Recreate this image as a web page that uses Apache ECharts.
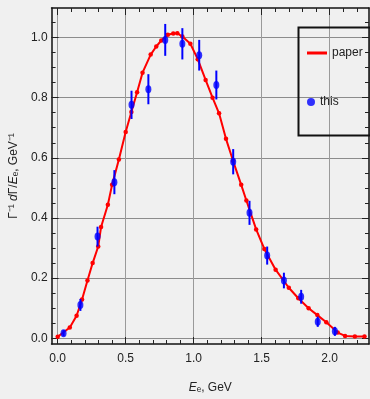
<!DOCTYPE html>
<html lang="en">
<head>
  <meta charset="UTF-8">
  <title>spectrum</title>
  <script src="https://cdn.jsdelivr.net/npm/echarts@6.0.0/dist/echarts.min.js"></script>
  <style>
    html, body { margin: 0; padding: 0; background: #f0f0f0; }
  </style>
</head>
<body>
  <div id="chart" style="width: 370px; height: 399px;"></div>

  <script>
    // curve "paper": [E, value]
    const paperX = [0.0, 0.089, 0.139, 0.179, 0.219, 0.257, 0.298, 0.319, 0.369, 0.4, 0.45, 0.5, 0.542,
      0.584, 0.624, 0.684, 0.725, 0.762, 0.81, 0.85, 0.88, 0.917, 0.976, 1.03, 1.088, 1.139, 1.187,
      1.238, 1.29, 1.35, 1.388, 1.46, 1.52, 1.603, 1.70, 1.77, 1.846, 1.91, 1.976, 2.06, 2.114, 2.186, 2.257]
    const paperY = [0.005, 0.036, 0.075, 0.129, 0.192, 0.25, 0.305, 0.37, 0.444, 0.51, 0.594, 0.686, 0.752,
      0.818, 0.883, 0.943, 0.97, 0.99, 1.009, 1.013, 1.014, 1.003, 0.979, 0.928, 0.859, 0.8, 0.748,
      0.663, 0.59, 0.51, 0.458, 0.362, 0.297, 0.228, 0.168, 0.133, 0.1, 0.077, 0.053, 0.019, 0.008, 0.006, 0.006]

    // points "this" with errors
    const thisX = [0.043, 0.167, 0.293, 0.417, 0.543, 0.667, 0.791, 0.917, 1.041, 1.167, 1.291, 1.411,
      1.541, 1.664, 1.791, 1.913, 2.039]
    const thisY = [0.017, 0.111, 0.338, 0.519, 0.776, 0.828, 0.992, 0.979, 0.941, 0.842, 0.587, 0.417,
      0.275, 0.192, 0.138, 0.055, 0.023]
    const thisErr = [0.01, 0.02, 0.033, 0.04, 0.047, 0.05, 0.053, 0.052, 0.051, 0.048, 0.042, 0.04,
      0.03, 0.026, 0.023, 0.017, 0.015]

    // ticks
    const xMajor = [0, 0.5, 1.0, 1.5, 2.0]
    const xMinor = [0, 0.1, 0.2, 0.3, 0.4, 0.5, 0.6, 0.7, 0.8, 0.9, 1.0, 1.1, 1.2, 1.3, 1.4, 1.5,
      1.6, 1.7, 1.8, 1.9, 2.0, 2.1, 2.2]
    const yMajor = [0, 0.2, 0.4, 0.6, 0.8, 1.0]
    const yMinor = [0, 0.05, 0.1, 0.15, 0.2, 0.25, 0.3, 0.35, 0.4, 0.45, 0.5, 0.55, 0.6, 0.65, 0.7,
      0.75, 0.8, 0.85, 0.9, 0.95, 1.0, 1.05]

    const xMin = -0.045, xMax = 2.29
    const yMin = -0.019, yMax = 1.098
    const font = '"Liberation Sans Narrow", "Liberation Sans", Arial, sans-serif'

    const paperData = paperX.map((x, i) => [x, paperY[i]])
    const thisData = thisX.map((x, i) => [x, thisY[i], thisErr[i]])

    // one axis of the frame: only ticks (and line), for major or minor positions
    function tickAxis(pos, values, len, min, max, main) {
      return {
        type: 'value', position: pos, min: min, max: max,
        axisLine: { show: !!main, onZero: false, lineStyle: { color: '#111', width: 1.5 } },
        axisTick: { show: true, inside: true, length: len, customValues: values,
          lineStyle: { color: '#222', width: 1 } },
        axisLabel: { show: false },
        splitLine: { show: false },
        minorTick: { show: false }
      }
    }

    const bottom = tickAxis('bottom', xMajor, 7, xMin, xMax, true)
    bottom.axisLabel = { show: true, customValues: xMajor, margin: 9, color: '#222',
      fontFamily: font, fontSize: 12, formatter: v => v.toFixed(1) }
    bottom.splitLine = { show: true, lineStyle: { color: '#9a9a9a', width: 1 } }
    bottom.name = '{i|E}{n|ₑ, GeV}'
    bottom.nameLocation = 'middle'
    bottom.nameGap = 38
    bottom.nameTextStyle = { color: '#222', fontFamily: font, fontSize: 12,
      rich: { i: { fontStyle: 'italic', fontFamily: font, fontSize: 12, color: '#222' },
              n: { fontFamily: font, fontSize: 12, color: '#222' } } }

    const left = tickAxis('left', yMajor, 7, yMin, yMax, true)
    left.axisLabel = { show: true, customValues: yMajor, margin: 4, color: '#222',
      fontFamily: font, fontSize: 12, formatter: v => v.toFixed(1) }
    left.splitLine = { show: true, lineStyle: { color: '#8c8c8c', width: 1.2 } }
    left.name = '{n|Γ⁻¹ }{i|d}{n|Γ/}{i|E}{n|ₑ, GeV⁻¹}'
    left.nameLocation = 'middle'
    left.nameGap = 29
    left.nameTextStyle = { color: '#222', fontFamily: font, fontSize: 12,
      rich: { i: { fontStyle: 'italic', fontFamily: font, fontSize: 12, color: '#222' },
              n: { fontFamily: font, fontSize: 12, color: '#222' } } }

    const chart = echarts.init(document.getElementById('chart'))
    chart.setOption({
      backgroundColor: '#f0f0f0',
      animation: false,
      grid: { left: 42, right: 1, top: 8, bottom: 52 },
      xAxis: [
        bottom,
        tickAxis('bottom', xMinor, 4, xMin, xMax, false),
        tickAxis('top', xMajor, 7, xMin, xMax, true),
        tickAxis('top', xMinor, 4, xMin, xMax, false)
      ],
      yAxis: [
        left,
        tickAxis('left', yMinor, 4, yMin, yMax, false),
        tickAxis('right', yMajor, 7, yMin, yMax, true),
        tickAxis('right', yMinor, 4, yMin, yMax, false)
      ],
      legend: [
        { data: [{ name: 'paper', icon: 'rect' }], left: 307, top: 47, padding: 0,
          itemWidth: 20, itemHeight: 3, itemGap: 5,
          textStyle: { fontFamily: font, fontSize: 12, color: '#222' } },
        { data: ['this'], left: 307, top: 96, padding: 0, itemWidth: 8, itemHeight: 8, itemGap: 6,
          textStyle: { fontFamily: font, fontSize: 12, color: '#222' } }
      ],
      graphic: [{
        type: 'rect', left: 296, top: 25, z: 100, silent: true,
        shape: { width: 72, height: 108 },
        style: { fill: 'none', stroke: '#111', lineWidth: 2 }
      }],
      series: [
        {
          name: 'paper', type: 'line', data: paperData,
          symbol: 'circle', symbolSize: 4.5, showSymbol: true,
          itemStyle: { color: '#ff0000' },
          lineStyle: { color: '#ff0000', width: 2 },
          z: 3
        },
        {
          name: 'this-err', type: 'custom', data: thisData,
          renderItem: function (params, api) {
            const x = api.value(0), y = api.value(1), e = api.value(2)
            const lo = api.coord([x, y - e]), hi = api.coord([x, y + e])
            return { type: 'line', shape: { x1: lo[0], y1: lo[1], x2: hi[0], y2: hi[1] },
              style: { stroke: '#0000ff', lineWidth: 2 } }
          },
          z: 4
        },
        {
          name: 'this', type: 'scatter', data: thisData,
          symbol: 'circle', symbolSize: [6, 8],
          itemStyle: { color: '#0000ff' },
          z: 5
        }
      ]
    })
  </script>
</body>
</html>
